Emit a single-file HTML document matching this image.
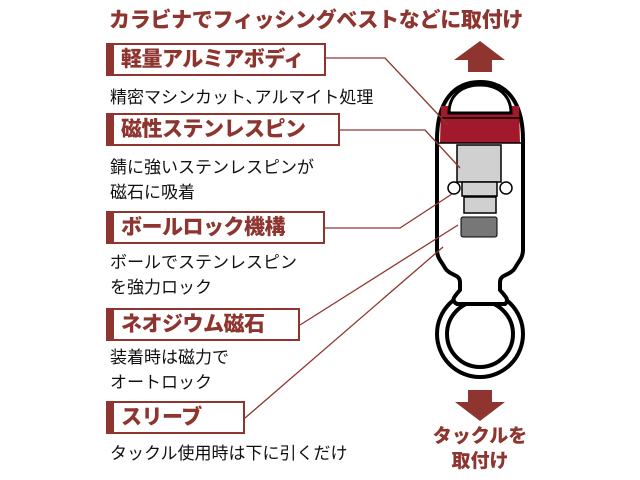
<!DOCTYPE html>
<html><head><meta charset="utf-8"><style>
body{margin:0;width:640px;height:480px;background:#fff;position:relative;overflow:hidden;font-family:"Liberation Sans","Noto Sans CJK JP",sans-serif}
.t{position:absolute;white-space:nowrap}
.title{left:109px;top:4px;font-size:21px;font-weight:900;color:#8e3530;letter-spacing:-0.3px}
.box{position:absolute;left:106px;height:33px;border:2px solid #8e3530;border-left:8px solid #8e3530;box-sizing:border-box;background:#fff;color:#8e3530;font-weight:900;font-size:21px;line-height:29px;padding-left:7px;letter-spacing:-0.5px}
.d{position:absolute;left:110px;font-size:17px;color:#111;line-height:25px;white-space:nowrap}
</style></head><body>
<svg width="640" height="480" style="position:absolute;left:0;top:0">
<!-- ring -->
<circle cx="480" cy="334" r="43" fill="#fff" stroke="#000" stroke-width="4"/>
<circle cx="480" cy="334" r="33" fill="#fff" stroke="#000" stroke-width="4"/>
<!-- body -->
<path d="M437,140 C437,100 455,82 480,82 C505,82 523,100 523,140 L523,250 C523,258 518,262 515,268 C510,276 500,274 500,282 L500,290 C505,296 510,300 505,304 L457,304 C450,300 455,296 460,290 L460,282 C460,274 450,276 445,268 C442,262 437,258 437,250 Z" fill="#fff" stroke="#000" stroke-width="4"/>
<path d="M441,106 L519,106 L520,143 L440,143 Z" fill="#a3192c"/>
<line x1="440" y1="118" x2="520" y2="118" stroke="#000" stroke-width="1.5"/>
<line x1="439" y1="143" x2="521" y2="143" stroke="#000" stroke-width="1.5"/>
<path d="M449,113 C449,95 462,85 480,85 C498,85 511,95 511,113 Z" fill="#fff" stroke="#000" stroke-width="3"/>
<rect x="457" y="145" width="44" height="37" fill="#d0d0d0" stroke="#000" stroke-width="1.5"/>
<rect x="462" y="182" width="35" height="14" fill="#d0d0d0" stroke="#000" stroke-width="1.5"/>
<rect x="464" y="197" width="32" height="16" fill="#d0d0d0" stroke="#000" stroke-width="1.5"/>
<rect x="461" y="217" width="36" height="20" rx="2" fill="#777" stroke="#000" stroke-width="1"/>
<circle cx="454" cy="188" r="6" fill="#fff" stroke="#000" stroke-width="1.5"/>
<circle cx="506" cy="188" r="6" fill="#fff" stroke="#000" stroke-width="1.5"/>
<g stroke="#8e3530" stroke-width="1.3" fill="none">
<polyline points="326,58 385,58 448,125"/>
<polyline points="340,130 425,130 460,168"/>
<polyline points="325,228 400,228 452,194"/>
<line x1="300" y1="325" x2="458" y2="225"/>
<line x1="245" y1="418" x2="443" y2="247"/>
</g>
<polygon points="480,41 505,60 492,60 492,72 468,72 468,60 454,60" fill="#8e3530"/>
<polygon points="468,390 492,390 492,402 505,402 480,421 455,402 468,402" fill="#8e3530"/>
</svg>
<div class="t title">カラビナでフィッシングベストなどに取付け</div>
<div class="box" style="top:43px;width:220px">軽量アルミアボディ</div>
<div class="d" style="top:85px">精密マシンカット､アルマイト処理</div>
<div class="box" style="top:113px;width:234px">磁性ステンレスピン</div>
<div class="d" style="top:155px">錆に強いステンレスピンが<br>磁石に吸着</div>
<div class="box" style="top:211px;width:219px">ボールロック機構</div>
<div class="d" style="top:250px">ボールでステンレスピン<br>を強力ロック</div>
<div class="box" style="top:308px;width:194px">ネオジウム磁石</div>
<div class="d" style="top:345px">装着時は磁力で<br>オートロック</div>
<div class="box" style="top:401px;width:139px">スリーブ</div>
<div class="d" style="top:441px">タックル使用時は下に引くだけ</div>
<div class="t" style="left:420px;width:120px;text-align:center;top:424px;font-size:19px;font-weight:900;color:#8e3530;line-height:25px">タックルを<br>取付け</div>
</body></html>
